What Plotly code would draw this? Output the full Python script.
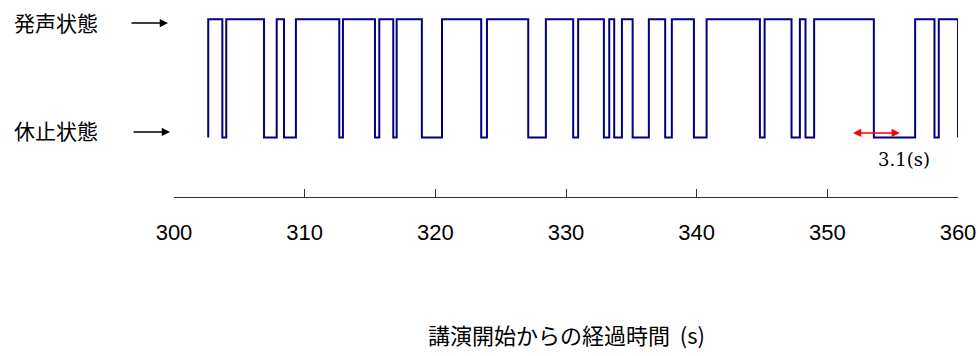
import plotly.graph_objects as go

# transition times (s) of the speech/pause signal
transition_times = [302.62, 303.70, 304.00, 306.89, 307.86, 308.42, 309.33, 312.65,
                    312.93, 315.38, 315.71, 316.78, 317.04, 318.97, 320.51, 323.51,
                    323.95, 327.11, 328.46, 330.55, 330.93, 332.90, 333.31, 333.69,
                    334.28, 335.10, 336.34, 337.59, 338.10, 339.79, 340.76, 344.84,
                    345.20, 347.26, 347.90, 348.33, 348.99, 353.56, 356.72, 358.20,
                    358.53, 360.00]
# state after each transition (1 = 発声, 0 = 休止)
states_after = [1, 0, 1, 0, 1, 0, 1, 0, 1, 0, 1, 0, 1, 0, 1, 0, 1, 0, 1, 0, 1,
                0, 1, 0, 1, 0, 1, 0, 1, 0, 1, 0, 1, 0, 1, 0, 1, 0, 1, 0, 1, 0]
initial_state = 0

tick_values = [300, 310, 320, 330, 340, 350, 360]
tick_labels = ["300", "310", "320", "330", "340", "350", "360"]

state_labels = ["発声状態", "休止状態"]
pause_span = [351.85, 355.55]
pause_label = "3.1(s)"
x_title = "講演開始からの経過時間 \u00a0(s)"

xs = [transition_times[0]] + transition_times
ys = [initial_state] + states_after

fig = go.Figure()
fig.add_trace(go.Scatter(x=xs, y=ys, mode="lines", line=dict(shape="hv", color="#000080", width=2),
                         hoverinfo="skip", showlegend=False))

cjk = "Noto Sans CJK JP"
annotations = [
    dict(x=-0.0944, xref="paper", y=0.975, yref="y", text=state_labels[0], showarrow=False,
         xanchor="right", yanchor="middle", font=dict(family=cjk, size=21, color="black")),
    dict(x=-0.0944, xref="paper", y=0.060, yref="y", text=state_labels[1], showarrow=False,
         xanchor="right", yanchor="middle", font=dict(family=cjk, size=21, color="black")),
    dict(x=-0.00765, y=0.969, xref="paper", yref="y", ax=-38, ay=0,
         text="", showarrow=True, arrowhead=2, arrowsize=1.1, arrowwidth=1.5, arrowcolor="black"),
    dict(x=-0.0051, y=0.047, xref="paper", yref="y", ax=-38, ay=0,
         text="", showarrow=True, arrowhead=2, arrowsize=1.1, arrowwidth=1.5, arrowcolor="black"),
    dict(x=pause_span[1], y=0.039, xref="x", yref="y", ax=pause_span[0], ay=0.039, axref="x", ayref="y",
         text="", showarrow=True, arrowhead=2, startarrowhead=2, arrowside="end+start",
         arrowsize=1.1, startarrowsize=1.1, arrowwidth=1.5, arrowcolor="red"),
    dict(x=355.9, y=-0.186, xref="x", yref="y", text=pause_label, showarrow=False,
         xanchor="center", yanchor="middle", font=dict(family="DejaVu Serif", size=18, color="black")),
    dict(x=0.5, xref="paper", y=-0.73, yref="paper", text=x_title, showarrow=False,
         xanchor="center", yanchor="middle", font=dict(family=cjk, size=22, color="black")),
]

fig.update_layout(
    width=978, height=356,
    margin=dict(l=174, r=20, t=10, b=159, autoexpand=False),
    paper_bgcolor="white", plot_bgcolor="white",
    annotations=annotations,
    xaxis=dict(range=[300, 360], tickvals=tick_values, ticktext=tick_labels,
               showline=True, linecolor="#333333", linewidth=1,
               ticks="inside", ticklen=8, tickcolor="#333333", tickwidth=1,
               showgrid=False, zeroline=False, ticklabelstandoff=16,
               tickfont=dict(family="Liberation Sans", size=22, color="black")),
    yaxis=dict(range=[-0.503, 1.079], visible=False, showgrid=False, zeroline=False),
)

fig.write_html("out.html", config={"displayModeBar": False},
               post_script="document.body.style.margin='0';")
